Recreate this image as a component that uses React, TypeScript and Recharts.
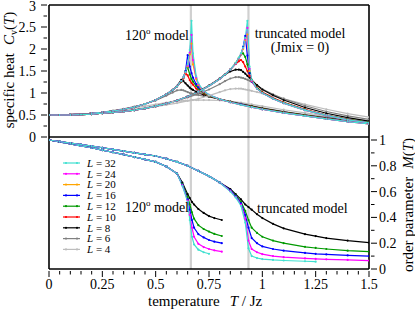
import React from "react";
import { ComposedChart, Line, XAxis, YAxis, ReferenceLine } from "recharts";

const FONT = "Liberation Serif, Times New Roman, Times, DejaVu Serif, serif";

// lattice sizes, drawn small first so the large L sit on top
const SIZES = [4, 6, 8, 10, 12, 16, 20, 24, 32];
const COLORS: Record<number, string> = {
  32: "#40e0d0",
  24: "#ff00ff",
  20: "#ffa500",
  16: "#0000ff",
  12: "#009900",
  10: "#ff0000",
  8: "#000000",
  6: "#808080",
  4: "#bdbdbd",
};
const LEGEND_SIZES = [32, 24, 20, 16, 12, 10, 8, 6, 4];
const M_SIZES = [8, 12, 16, 24, 32];

// specific heat, 120 degree model
const CV120_T = [0, 0.05, 0.1, 0.15, 0.2, 0.25, 0.3, 0.35, 0.4, 0.45, 0.5, 0.55, 0.58, 0.6, 0.62, 0.63, 0.64, 0.65, 0.66, 0.668, 0.675, 0.69, 0.7, 0.725, 0.75, 0.8, 0.85, 0.9, 0.95, 1.0, 1.1, 1.2, 1.3, 1.4, 1.5];
const CV120: Record<number, number[]> = {
  32: [0.5, 0.5, 0.51, 0.52, 0.54, 0.56, 0.59, 0.63, 0.68, 0.75, 0.84, 0.97, 1.07, 1.15, 1.27, 1.36, 1.48, 1.65, 1.98, 2.64, 1.9, 1.38, 1.22, 1.05, 0.96, 0.86, 0.79, 0.73, 0.68, 0.63, 0.55, 0.48, 0.41, 0.35, 0.3],
  24: [0.5, 0.5, 0.51, 0.52, 0.54, 0.56, 0.59, 0.63, 0.68, 0.75, 0.84, 0.97, 1.07, 1.15, 1.27, 1.36, 1.47, 1.62, 1.92, 2.32, 1.75, 1.35, 1.2, 1.04, 0.96, 0.86, 0.79, 0.73, 0.68, 0.63, 0.55, 0.48, 0.41, 0.35, 0.3],
  20: [0.5, 0.5, 0.51, 0.52, 0.54, 0.56, 0.59, 0.63, 0.68, 0.75, 0.84, 0.97, 1.07, 1.15, 1.27, 1.35, 1.46, 1.6, 1.88, 2.12, 1.65, 1.32, 1.18, 1.03, 0.95, 0.86, 0.79, 0.73, 0.68, 0.63, 0.55, 0.48, 0.41, 0.35, 0.3],
  16: [0.5, 0.5, 0.51, 0.52, 0.54, 0.56, 0.59, 0.63, 0.68, 0.75, 0.84, 0.97, 1.07, 1.15, 1.27, 1.35, 1.5, 1.86, 1.6, 1.45, 1.35, 1.2, 1.13, 1.02, 0.95, 0.86, 0.79, 0.74, 0.68, 0.63, 0.55, 0.48, 0.41, 0.35, 0.31],
  12: [0.5, 0.5, 0.51, 0.52, 0.54, 0.56, 0.59, 0.63, 0.68, 0.75, 0.84, 0.97, 1.07, 1.15, 1.26, 1.35, 1.5, 1.58, 1.42, 1.32, 1.26, 1.16, 1.1, 1.0, 0.94, 0.86, 0.8, 0.74, 0.69, 0.64, 0.56, 0.49, 0.42, 0.36, 0.31],
  10: [0.5, 0.5, 0.51, 0.52, 0.54, 0.56, 0.59, 0.63, 0.68, 0.75, 0.84, 0.97, 1.07, 1.15, 1.25, 1.33, 1.45, 1.4, 1.29, 1.23, 1.19, 1.1, 1.06, 0.99, 0.94, 0.86, 0.8, 0.74, 0.69, 0.64, 0.56, 0.49, 0.42, 0.36, 0.3],
  8: [0.5, 0.5, 0.51, 0.52, 0.54, 0.56, 0.59, 0.63, 0.68, 0.75, 0.84, 0.97, 1.06, 1.16, 1.3, 1.27, 1.22, 1.17, 1.12, 1.09, 1.07, 1.03, 1.0, 0.96, 0.92, 0.86, 0.8, 0.75, 0.7, 0.65, 0.57, 0.5, 0.43, 0.37, 0.32],
  6: [0.5, 0.5, 0.51, 0.52, 0.54, 0.56, 0.6, 0.64, 0.69, 0.75, 0.83, 0.94, 1.01, 1.06, 1.07, 1.06, 1.04, 1.02, 1.0, 0.99, 0.98, 0.96, 0.95, 0.93, 0.91, 0.86, 0.81, 0.76, 0.71, 0.66, 0.58, 0.51, 0.45, 0.39, 0.34],
  4: [0.5, 0.5, 0.51, 0.52, 0.54, 0.56, 0.59, 0.62, 0.66, 0.7, 0.74, 0.78, 0.8, 0.81, 0.82, 0.82, 0.83, 0.83, 0.83, 0.84, 0.84, 0.84, 0.84, 0.84, 0.84, 0.83, 0.81, 0.78, 0.74, 0.7, 0.62, 0.55, 0.48, 0.42, 0.37],
};

// specific heat, truncated model (Jmix = 0)
const CVTR_T = [0, 0.05, 0.1, 0.15, 0.2, 0.25, 0.3, 0.35, 0.4, 0.45, 0.5, 0.55, 0.6, 0.65, 0.7, 0.75, 0.8, 0.825, 0.85, 0.875, 0.89, 0.9, 0.91, 0.92, 0.93, 0.94, 0.95, 0.975, 1.0, 1.05, 1.1, 1.2, 1.3, 1.4, 1.5];
const CVTR: Record<number, number[]> = {
  32: [0.5, 0.5, 0.5, 0.51, 0.52, 0.54, 0.56, 0.58, 0.61, 0.65, 0.7, 0.76, 0.83, 0.92, 1.03, 1.16, 1.32, 1.42, 1.53, 1.68, 1.8, 1.9, 2.03, 2.25, 2.64, 1.6, 1.3, 1.1, 1.0, 0.87, 0.77, 0.61, 0.49, 0.39, 0.32],
  24: [0.5, 0.5, 0.5, 0.51, 0.52, 0.54, 0.56, 0.58, 0.61, 0.65, 0.7, 0.76, 0.83, 0.92, 1.03, 1.16, 1.32, 1.42, 1.53, 1.67, 1.79, 1.89, 2.02, 2.22, 2.48, 1.55, 1.28, 1.1, 1.0, 0.87, 0.77, 0.61, 0.49, 0.39, 0.32],
  20: [0.5, 0.5, 0.5, 0.51, 0.52, 0.54, 0.56, 0.58, 0.61, 0.65, 0.7, 0.76, 0.83, 0.92, 1.03, 1.16, 1.32, 1.42, 1.53, 1.67, 1.78, 1.88, 2.0, 2.2, 2.33, 1.5, 1.27, 1.1, 1.0, 0.87, 0.77, 0.61, 0.49, 0.39, 0.32],
  16: [0.5, 0.5, 0.5, 0.51, 0.52, 0.54, 0.56, 0.58, 0.61, 0.65, 0.7, 0.76, 0.83, 0.92, 1.03, 1.16, 1.32, 1.42, 1.53, 1.67, 1.78, 1.88, 2.05, 2.3, 1.85, 1.45, 1.26, 1.1, 1.0, 0.87, 0.77, 0.61, 0.49, 0.39, 0.32],
  12: [0.5, 0.5, 0.5, 0.51, 0.52, 0.54, 0.56, 0.58, 0.61, 0.65, 0.7, 0.76, 0.83, 0.92, 1.03, 1.16, 1.32, 1.42, 1.53, 1.68, 1.8, 1.88, 1.9, 1.82, 1.65, 1.45, 1.3, 1.12, 1.01, 0.88, 0.78, 0.62, 0.5, 0.4, 0.33],
  10: [0.5, 0.5, 0.5, 0.51, 0.52, 0.54, 0.56, 0.58, 0.61, 0.65, 0.7, 0.76, 0.83, 0.92, 1.03, 1.16, 1.32, 1.42, 1.53, 1.66, 1.72, 1.75, 1.7, 1.6, 1.5, 1.39, 1.3, 1.13, 1.02, 0.89, 0.79, 0.63, 0.5, 0.4, 0.32],
  8: [0.5, 0.5, 0.5, 0.51, 0.52, 0.54, 0.56, 0.58, 0.61, 0.65, 0.7, 0.76, 0.83, 0.92, 1.04, 1.17, 1.33, 1.42, 1.49, 1.53, 1.53, 1.52, 1.48, 1.44, 1.39, 1.35, 1.3, 1.18, 1.08, 0.95, 0.84, 0.67, 0.54, 0.44, 0.36],
  6: [0.5, 0.5, 0.5, 0.51, 0.52, 0.54, 0.56, 0.59, 0.62, 0.66, 0.71, 0.77, 0.83, 0.9, 0.98, 1.08, 1.2, 1.27, 1.33, 1.36, 1.36, 1.35, 1.34, 1.32, 1.3, 1.28, 1.25, 1.17, 1.09, 0.97, 0.87, 0.71, 0.58, 0.48, 0.4],
  4: [0.5, 0.5, 0.5, 0.51, 0.52, 0.54, 0.56, 0.59, 0.62, 0.65, 0.69, 0.73, 0.77, 0.82, 0.87, 0.94, 1.02, 1.06, 1.09, 1.1, 1.1, 1.1, 1.09, 1.08, 1.07, 1.06, 1.05, 1.02, 0.99, 0.93, 0.87, 0.74, 0.63, 0.53, 0.45],
};

// order parameter, 120 degree model
const M120_T = [0, 0.05, 0.1, 0.15, 0.2, 0.25, 0.3, 0.35, 0.4, 0.45, 0.5, 0.55, 0.6, 0.625, 0.65, 0.66, 0.67, 0.68, 0.7, 0.725, 0.75, 0.775, 0.81];
const M120: Record<number, (number | null)[]> = {
  8: [1.0, 0.985, 0.97, 0.955, 0.94, 0.922, 0.905, 0.887, 0.868, 0.85, 0.83, 0.795, 0.74, 0.67, 0.58, 0.55, 0.52, 0.5, 0.465, 0.435, 0.41, 0.395, 0.38],
  12: [1.0, 0.985, 0.97, 0.955, 0.94, 0.922, 0.905, 0.887, 0.868, 0.85, 0.83, 0.795, 0.74, 0.66, 0.56, 0.5, 0.44, 0.39, 0.34, 0.31, 0.29, 0.272, 0.256],
  16: [1.0, 0.985, 0.97, 0.955, 0.94, 0.922, 0.905, 0.887, 0.868, 0.85, 0.83, 0.795, 0.74, 0.655, 0.54, 0.46, 0.38, 0.32, 0.27, 0.245, 0.225, 0.212, 0.2],
  24: [1.0, 0.985, 0.97, 0.955, 0.94, 0.922, 0.905, 0.887, 0.868, 0.85, 0.83, 0.795, 0.74, 0.65, 0.53, 0.42, 0.32, 0.25, 0.195, 0.17, 0.155, 0.145, 0.134],
  32: [1.0, 0.985, 0.97, 0.955, 0.94, 0.922, 0.905, 0.887, 0.868, 0.85, 0.83, 0.795, 0.74, 0.645, 0.52, 0.38, 0.25, 0.19, 0.15, 0.13, 0.118, null, null],
};

// order parameter, truncated model
const MTR_T = [0, 0.05, 0.1, 0.15, 0.2, 0.25, 0.3, 0.35, 0.4, 0.45, 0.5, 0.55, 0.6, 0.65, 0.7, 0.75, 0.8, 0.85, 0.875, 0.9, 0.92, 0.935, 0.95, 0.975, 1.0, 1.05, 1.1, 1.2, 1.25, 1.3, 1.4, 1.5];
const MTR: Record<number, (number | null)[]> = {
  8: [1.0, 0.988, 0.976, 0.964, 0.952, 0.94, 0.927, 0.914, 0.9, 0.888, 0.876, 0.855, 0.83, 0.8, 0.76, 0.72, 0.67, 0.62, 0.58, 0.54, 0.5, 0.48, 0.46, 0.425, 0.395, 0.35, 0.315, 0.27, 0.255, 0.24, 0.22, 0.205],
  12: [1.0, 0.988, 0.976, 0.964, 0.952, 0.94, 0.927, 0.914, 0.9, 0.888, 0.876, 0.855, 0.83, 0.8, 0.76, 0.72, 0.67, 0.61, 0.57, 0.52, 0.45, 0.38, 0.32, 0.28, 0.25, 0.22, 0.2, 0.172, 0.163, 0.155, 0.142, 0.134],
  16: [1.0, 0.988, 0.976, 0.964, 0.952, 0.94, 0.927, 0.914, 0.9, 0.888, 0.876, 0.855, 0.83, 0.8, 0.76, 0.72, 0.67, 0.61, 0.565, 0.51, 0.42, 0.32, 0.24, 0.2, 0.175, 0.155, 0.142, 0.125, 0.118, 0.113, 0.105, 0.1],
  24: [1.0, 0.988, 0.976, 0.964, 0.952, 0.94, 0.927, 0.914, 0.9, 0.888, 0.876, 0.855, 0.83, 0.8, 0.76, 0.72, 0.67, 0.605, 0.56, 0.5, 0.39, 0.22, 0.155, 0.13, 0.115, 0.1, 0.092, 0.082, 0.078, 0.075, 0.07, 0.065],
  32: [1.0, 0.988, 0.976, 0.964, 0.952, 0.94, 0.927, 0.914, 0.9, 0.888, 0.876, 0.855, 0.83, 0.8, 0.76, 0.72, 0.67, 0.6, 0.555, 0.49, 0.36, 0.16, 0.1, 0.085, 0.077, 0.07, 0.066, 0.06, 0.057, null, null, null],
};

// ticks
const X_TICKS = [0, 0.05, 0.1, 0.15, 0.2, 0.25, 0.3, 0.35, 0.4, 0.45, 0.5, 0.55, 0.6, 0.65, 0.7, 0.75, 0.8, 0.85, 0.9, 0.95, 1, 1.05, 1.1, 1.15, 1.2, 1.25, 1.3, 1.35, 1.4, 1.45, 1.5];
const X_LABELS = [0, 0.25, 0.5, 0.75, 1, 1.25, 1.5];
const CV_TICKS = [0, 0.25, 0.5, 0.75, 1, 1.25, 1.5, 1.75, 2, 2.25, 2.5, 2.75, 3];
const CV_LABELS = [0, 0.5, 1, 1.5, 2, 2.5, 3];
const M_TICKS = [0, 0.1, 0.2, 0.3, 0.4, 0.5, 0.6, 0.7, 0.8, 0.9, 1];
const M_LABELS = [0, 0.2, 0.4, 0.6, 0.8, 1];
const T_C = [0.665, 0.935];

const toPoints = (ts: number[], vs: (number | null)[]) =>
  ts.map((T, i) => ({ T, v: vs[i] })).filter((p) => p.v != null);

const makeTick = (side: "left" | "right" | "bottom", labels: number[]) => (props: any) => {
  const { x, y, payload } = props;
  const v = payload.value;
  const major = labels.includes(v);
  const len = major ? 6 : 3.5;
  const style = { fontFamily: FONT };
  if (side === "bottom") {
    return (
      <g>
        <line x1={x} y1={y} x2={x} y2={y + len} stroke="#000" strokeWidth={1} />
        {major && (
          <text x={x} y={y + 18} textAnchor="middle" fontSize={14} style={style} fill="#000">{String(v)}</text>
        )}
      </g>
    );
  }
  if (side === "left") {
    // keep the top label inside the picture
    const dy = v === 3 ? 5.5 : 5;
    return (
      <g>
        <line x1={x - len} y1={y} x2={x} y2={y} stroke="#000" strokeWidth={1} />
        {major && (
          <text x={x - 11} y={y + dy} textAnchor="end" fontSize={14} style={style} fill="#000">{String(v)}</text>
        )}
      </g>
    );
  }
  return (
    <g>
      <line x1={x} y1={y} x2={x + len} y2={y} stroke="#000" strokeWidth={1} />
      {major && (
        <text x={x + 8} y={y + 5} textAnchor="start" fontSize={14} style={style} fill="#000">{String(v)}</text>
      )}
    </g>
  );
};

const series = (prefix: string, ts: number[], table: Record<number, (number | null)[]>, sizes: number[], axis: string) =>
  sizes.map((L) => (
    <Line
      key={`${prefix}-${L}`}
      data={toPoints(ts, table[L])}
      dataKey="v"
      xAxisId="t"
      yAxisId={axis}
      type="linear"
      stroke={COLORS[L]}
      strokeWidth={1.2}
      dot={{ r: 1.1, fill: COLORS[L], stroke: "none" }}
      isAnimationActive={false}
    />
  ));

const Annotations = () => (
  <svg width={415} height={309} style={{ position: "absolute", left: 0, top: 0, pointerEvents: "none", fontFamily: FONT }}>
    {/* axis titles */}
    <text transform="translate(14,70) rotate(-90)" textAnchor="middle" fontSize={15}>
      specific heat
      <tspan dx={8} fontStyle="italic">C</tspan>
      <tspan fontSize={10} dy={3}>v</tspan>
      <tspan dy={-3}>(</tspan>
      <tspan fontStyle="italic">T</tspan>)
    </text>
    <text transform="translate(413,205) rotate(-90)" textAnchor="middle" fontSize={15}>
      order parameter
      <tspan dx={8} fontStyle="italic">M</tspan>(<tspan fontStyle="italic">T</tspan>)
    </text>
    <text x={148} y={306} fontSize={15}>
      temperature
      <tspan dx={10} fontStyle="italic">T</tspan> / Jz
    </text>

    {/* model labels */}
    <text x={125} y={40} fontSize={14}>
      120<tspan fontSize={9} dy={-6}>o</tspan>
      <tspan dy={6}> model</tspan>
    </text>
    <text x={300} y={38} fontSize={14} textAnchor="middle">truncated model</text>
    <text x={300} y={52} fontSize={14} textAnchor="middle">(Jmix = 0)</text>
    <text x={125} y={212} fontSize={14}>
      120<tspan fontSize={9} dy={-6}>o</tspan>
      <tspan dy={6}> model</tspan>
    </text>
    <text x={257} y={213} fontSize={14}>truncated model</text>

    {/* legend */}
    {LEGEND_SIZES.map((L, i) => {
      const y = 163 + i * 10.8;
      return (
        <g key={L}>
          <line x1={63} y1={y} x2={80} y2={y} stroke={COLORS[L]} strokeWidth={1.2} />
          <circle cx={66} cy={y} r={1.1} fill={COLORS[L]} />
          <circle cx={77} cy={y} r={1.1} fill={COLORS[L]} />
          <text x={87} y={y + 3.8} fontSize={11}>
            <tspan fontStyle="italic">L</tspan> = {L}
          </text>
        </g>
      );
    })}
  </svg>
);

export default function App() {
  return (
    <div style={{ position: "absolute", left: 0, top: 0, width: 415, height: 309, background: "#fff", fontFamily: FONT }}>
      <ComposedChart width={415} height={309} margin={{ top: 5, right: 0, bottom: 0, left: 0 }}>
        <XAxis
          xAxisId="t"
          dataKey="T"
          type="number"
          domain={[0, 1.5]}
          ticks={X_TICKS}
          interval={0}
          height={40}
          tickSize={0}
          tickLine={false}
          axisLine={{ stroke: "#000", strokeWidth: 1.6 }}
          tick={makeTick("bottom", X_LABELS)}
          allowDataOverflow
        />
        <YAxis
          yAxisId="cv"
          orientation="left"
          type="number"
          domain={[-3, 3]}
          ticks={CV_TICKS}
          interval={0}
          width={49}
          tickSize={0}
          tickLine={false}
          axisLine={{ stroke: "#000", strokeWidth: 1.6 }}
          tick={makeTick("left", CV_LABELS)}
          allowDataOverflow
        />
        <YAxis
          yAxisId="m"
          orientation="right"
          type="number"
          domain={[0, 264 / 129]}
          ticks={M_TICKS}
          interval={0}
          width={46}
          tickSize={0}
          tickLine={false}
          axisLine={{ stroke: "#000", strokeWidth: 1.6 }}
          tick={makeTick("right", M_LABELS)}
          allowDataOverflow
        />
        {T_C.map((t) => (
          <ReferenceLine key={t} x={t} xAxisId="t" yAxisId="cv" stroke="#d0d0d0" strokeWidth={2.2} />
        ))}
        <ReferenceLine y={0} xAxisId="t" yAxisId="cv" stroke="#000" strokeWidth={1.6} />
        <ReferenceLine y={3} xAxisId="t" yAxisId="cv" stroke="#000" strokeWidth={1.6} />
        {series("cv120", CV120_T, CV120, SIZES, "cv")}
        {series("cvtr", CVTR_T, CVTR, SIZES, "cv")}
        {series("m120", M120_T, M120, M_SIZES, "m")}
        {series("mtr", MTR_T, MTR, M_SIZES, "m")}
      </ComposedChart>
      <Annotations />
    </div>
  );
}
